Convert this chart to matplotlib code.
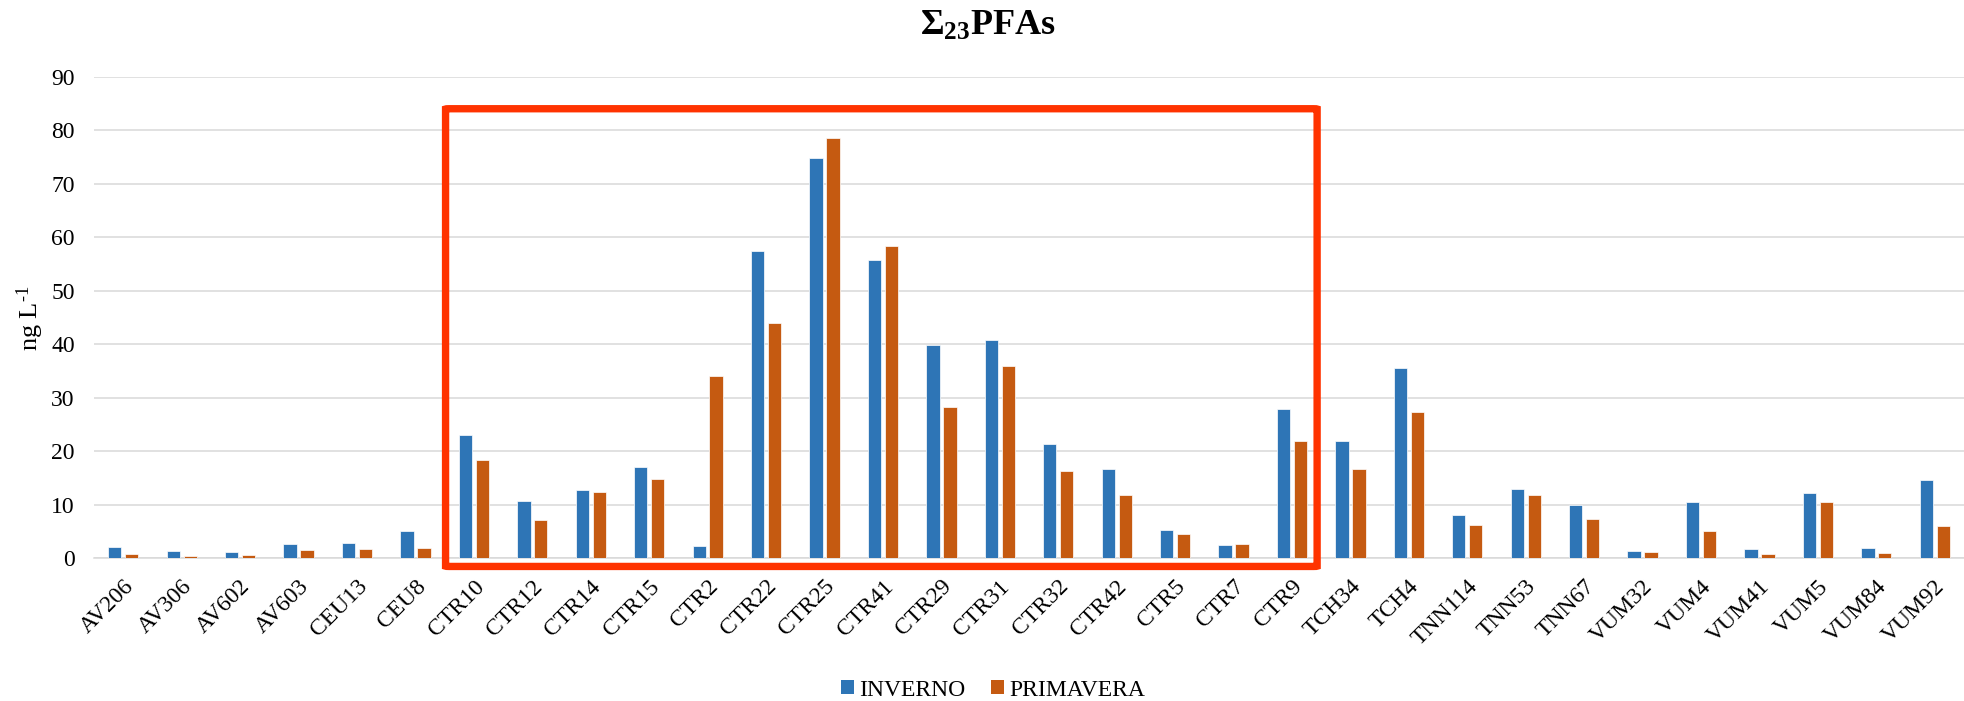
import matplotlib
matplotlib.use("Agg")
import matplotlib.pyplot as plt
import matplotlib.transforms as mtransforms
from matplotlib.patches import FancyBboxPatch, Patch
import numpy as np

# Genel yazı tipi ayarları (Times benzeri)
plt.rcParams['font.family'] = ['Liberation Serif', 'DejaVu Serif']
plt.rcParams['mathtext.fontset'] = 'custom'
plt.rcParams['mathtext.rm'] = 'Liberation Serif'
plt.rcParams['mathtext.it'] = 'Liberation Serif:italic'
plt.rcParams['mathtext.bf'] = 'Liberation Serif:bold'

# İstasyonlar
stations = [
    "AV206", "AV306", "AV602", "AV603", "CEU13", "CEU8",
    "CTR10", "CTR12", "CTR14", "CTR15", "CTR2", "CTR22", "CTR25", "CTR41",
    "CTR29", "CTR31", "CTR32", "CTR42", "CTR5", "CTR7", "CTR9",
    "TCH34", "TCH4", "TNN114", "TNN53", "TNN67",
    "VUM32", "VUM4", "VUM41", "VUM5", "VUM84", "VUM92",
]

# Σ23PFAs (ng/L) - kış
inverno = [
    2.1, 1.4, 1.2, 2.7, 2.8, 5.2,
    23.1, 10.7, 12.7, 17.0, 2.3, 57.4, 74.8, 55.7,
    39.9, 40.8, 21.4, 16.7, 5.4, 2.5, 27.9,
    21.9, 35.5, 8.2, 12.9, 10.0,
    1.3, 10.5, 1.8, 12.2, 1.9, 14.6,
]

# Σ23PFAs (ng/L) - ilkbahar
primavera = [
    0.9, 0.5, 0.7, 1.5, 1.7, 1.9,
    18.4, 7.2, 12.5, 14.8, 34.0, 44.0, 78.5, 58.4,
    28.3, 35.9, 16.3, 11.8, 4.5, 2.7, 22.0,
    16.7, 27.3, 6.3, 11.8, 7.4,
    1.2, 5.1, 0.75, 10.5, 1.0, 6.0,
]

series_names = ["INVERNO", "PRIMAVERA"]
colors = ["#2E75B6", "#C55A11"]

# Vurgulanan grup (CTR istasyonları)
highlight_first = "CTR10"
highlight_last = "CTR9"

FONT_SIZE = 17


def draw_bars(ax):
    x = np.arange(len(stations))
    width = 0.228
    offset = 0.145
    ax.bar(x - offset, inverno, width, color=colors[0], edgecolor="white",
           linewidth=0.5, zorder=3)
    ax.bar(x + offset, primavera, width, color=colors[1], edgecolor="white",
           linewidth=0.5, zorder=3)
    return x


def style_axes(ax, x):
    ax.set_xlim(-0.5, len(stations) - 0.5)
    ax.set_ylim(0, 90)
    ax.set_yticks(np.arange(0, 91, 10))
    ax.yaxis.grid(True, color="#d9d9d9", linewidth=1.1, zorder=0)
    ax.set_axisbelow(True)
    for side in ["top", "right", "left"]:
        ax.spines[side].set_visible(False)
    ax.spines["bottom"].set_color("#d9d9d9")
    ax.spines["bottom"].set_linewidth(1.1)

    ax.tick_params(axis="y", length=0, pad=14, labelsize=FONT_SIZE)
    ax.tick_params(axis="x", length=0, pad=18, labelsize=FONT_SIZE)
    ax.set_xticks(x)
    ax.set_xticklabels(stations, rotation=45, ha="right", va="center",
                       rotation_mode="anchor")
    shift = mtransforms.ScaledTranslation(7 / 100, 0, ax.figure.dpi_scale_trans)
    for lbl in ax.get_xticklabels():
        lbl.set_transform(lbl.get_transform() + shift)


def draw_highlight(ax):
    i0 = stations.index(highlight_first)
    i1 = stations.index(highlight_last)
    x0 = i0 - 0.485
    x1 = i1 + 0.43
    y0, y1 = -1.5, 84.0
    box = FancyBboxPatch((x0, y0), x1 - x0, y1 - y0,
                         boxstyle="round,pad=0,rounding_size=0.06",
                         fill=False, edgecolor="#FF3300", linewidth=5.3,
                         clip_on=False, zorder=5)
    ax.add_patch(box)


def main():
    fig = plt.figure(figsize=(19.64, 7.01), dpi=100)
    ax = fig.add_axes([0.0479, 0.2034, 0.9521, 0.6873])

    x = draw_bars(ax)
    style_axes(ax, x)
    draw_highlight(ax)

    fig.text(0.503, 1 - 35 / 701, r"$\mathbf{\Sigma_{23}PFAs}$",
             ha="center", va="baseline", fontsize=26)
    fig.text(30 / 1964, 1 - 318 / 701, r"ng L$^{\text{-1}}$",
             rotation=90, ha="center", va="center", fontsize=19)

    handles = [Patch(facecolor=c, edgecolor="none") for c in colors]
    fig.legend(handles, series_names, loc="center",
               bbox_to_anchor=(993 / 1964, 1 - 690 / 701), ncol=2,
               frameon=False, fontsize=FONT_SIZE, handlelength=0.55,
               handleheight=0.55, handletextpad=0.2, columnspacing=1.1)

    fig.savefig("out.png", dpi=100)


if __name__ == "__main__":
    main()
